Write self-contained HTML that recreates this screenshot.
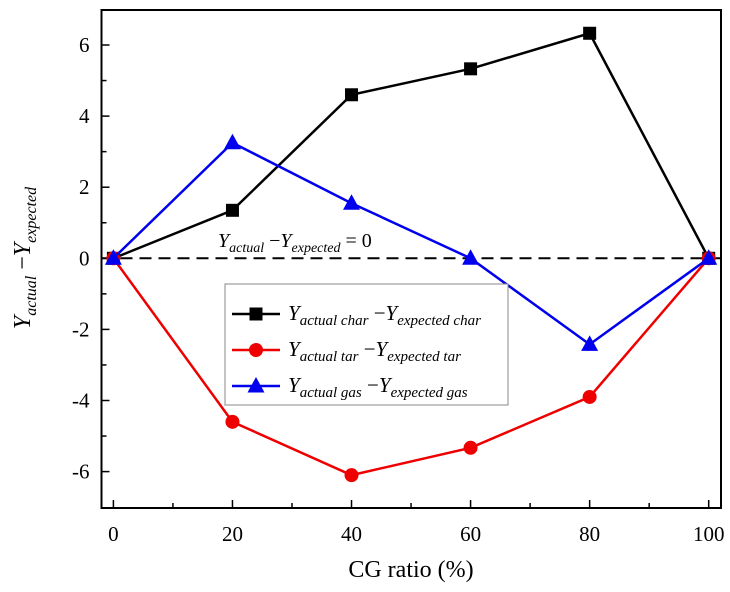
<!DOCTYPE html>
<html><head><meta charset="utf-8"><style>
body{margin:0;background:#fff}
svg{font-family:"Liberation Serif",serif}
</style></head><body>
<svg id="chart" width="730" height="587" viewBox="0 0 730 587" xmlns="http://www.w3.org/2000/svg">
<g id="axes"></g>
<g id="marks"></g>
<text x="411" y="577" font-size="24" text-anchor="middle">CG ratio (%)</text>
<text transform="translate(30,258) rotate(-90)" font-size="24" text-anchor="middle" font-style="italic">Y<tspan font-size="16" dy="6">actual</tspan><tspan font-style="normal" dy="-6"> −</tspan>Y<tspan font-size="16" dy="6">expected</tspan></text>
<text x="218" y="247" font-size="20" font-style="italic">Y<tspan font-size="14" dy="5">actual</tspan><tspan font-style="normal" dy="-5"> −</tspan>Y<tspan font-size="14" dy="5">expected</tspan><tspan font-style="normal" dy="-5"> = 0</tspan></text>
<g id="legend"></g>
</svg>
<script>
const categories=[0,20,40,60,80,100];
const charVals=[0,1.35,4.6,5.33,6.33,0];
const tarVals=[0,-4.6,-6.1,-5.33,-3.9,0];
const gasVals=[0,3.25,1.55,0,-2.42,0];
const xTicks=[0,20,40,60,80,100];
const yTicks=[-6,-4,-2,0,2,4,6];
const seriesNames=["char","tar","gas"];

const NS="http://www.w3.org/2000/svg";
const L=101.5,R=721,T=10,B=508;
const xs=v=>113.4+(v/100)*(708.7-113.4);
const ys=v=>258.3-v*35.55;
function mk(p,tag,a){const e=document.createElementNS(NS,tag);for(const k in a)e.setAttribute(k,a[k]);p.appendChild(e);return e;}
const ax=document.getElementById('axes');
const frame=mk(ax,'rect',{x:L,y:T,width:R-L,height:B-T,fill:'none',stroke:'#000','stroke-width':2});


for(let v=0;v<=100;v+=10){const x=xs(v);const t=mk(ax,'line',{x1:x,x2:x,y1:B,y2:B-(v%20===0?8:5),stroke:'#000','stroke-width':1.5});

}
xTicks.forEach(v=>{const t=mk(ax,'text',{x:xs(v),y:B+33,'font-size':21,'text-anchor':'middle'});t.textContent=v;

});
for(let v=-6;v<=6;v+=1){const y=ys(v);const t=mk(ax,'line',{x1:L,x2:L+(v%2===0?8:5),y1:y,y2:y,stroke:'#000','stroke-width':1.5});

}
yTicks.forEach(v=>{const t=mk(ax,'text',{x:L-12,y:ys(v)+7,'font-size':21,'text-anchor':'end'});t.textContent=v;

});
const zl=mk(ax,'line',{x1:L,x2:R,y1:ys(0),y2:ys(0),stroke:'#000','stroke-width':2,'stroke-dasharray':'12,7'});



const marks=document.getElementById('marks');
function marker(g,type,x,y,c){
  let e;
  if(type==='sq')e=mk(g,'rect',{x:x-6.5,y:y-6.5,width:13,height:13,fill:c});
  else if(type==='ci')e=mk(g,'circle',{cx:x,cy:y,r:7,fill:c});
  else e=mk(g,'polygon',{points:`${x},${y-9} ${x-8.5},${y+6.5} ${x+8.5},${y+6.5}`,fill:c});
  return e;
}
const series=[[charVals,'#000','sq'],[tarVals,'#e00','ci'],[gasVals,'#00e','tr']];
series.forEach(([vals,c,m],i)=>{
  const g=mk(marks,'g',{});
  
  
  const pl=mk(g,'polyline',{points:vals.map((v,j)=>xs(categories[j])+','+ys(v)).join(' '),fill:'none',stroke:c,'stroke-width':2.5});
  
  
  vals.forEach((v,j)=>{const e=marker(g,m,xs(categories[j]),ys(v),c);
    
    });
});

const lg=document.getElementById('legend');
const box=mk(lg,'rect',{x:225,y:284,width:283,height:121,fill:'#fff',stroke:'#888','stroke-width':1});


series.forEach(([vals,c,m],i)=>{
  const y=314+i*36;
  const g=mk(lg,'g',{});
  
  
  mk(g,'line',{x1:232,x2:280,y1:y,y2:y,stroke:c,'stroke-width':2.5});
  marker(g,m,256,y,c);
  const t=mk(g,'text',{x:288,y:y+6,'font-size':21,'font-style':'italic'});
  const n=seriesNames[i];
  t.innerHTML=`Y<tspan font-size="15" dy="5">actual ${n}</tspan><tspan font-style="normal" dy="-5"> −</tspan>Y<tspan font-size="15" dy="5">expected ${n}</tspan>`;
});
</script>
</body></html>
